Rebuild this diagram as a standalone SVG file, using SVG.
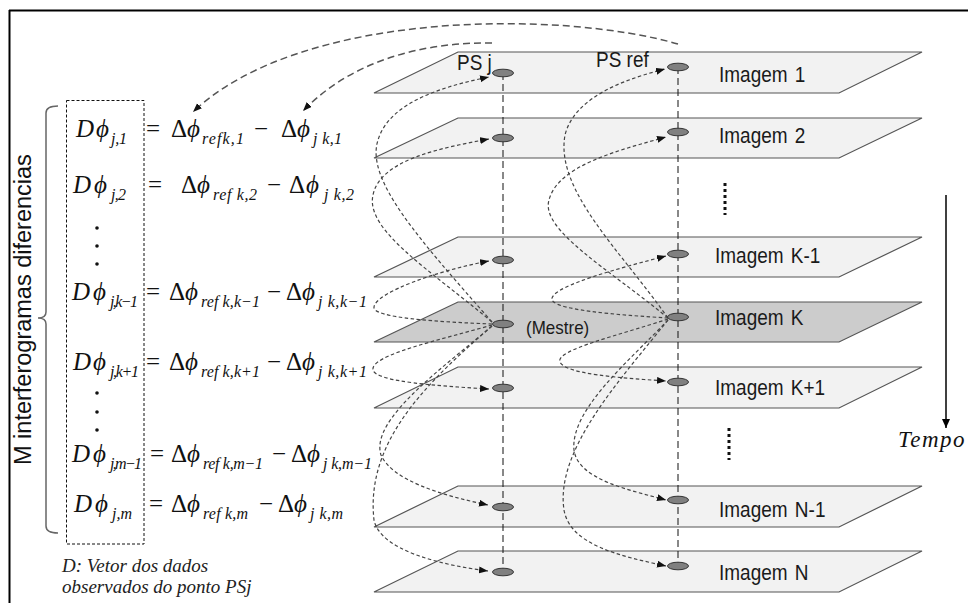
<svg xmlns="http://www.w3.org/2000/svg" width="968" height="603" viewBox="0 0 968 603">
  <style>
    .plane { fill: #f2f2f2; stroke: #555; stroke-width: 1.2; }
    .master { fill: #cccccc; }
    .ps { fill: #808080; stroke: #333; stroke-width: 1; }
    .col { stroke: #111; stroke-width: 1; stroke-dasharray: 7 4; fill: none; }
    .link { fill: none; stroke: #444; stroke-width: 1.2; stroke-dasharray: 3.5 2.5; marker-end: url(#tip); }
    .arc { fill: none; stroke: #555; stroke-width: 1.5; stroke-dasharray: 7 4; marker-end: url(#tip); }
    .lbl { font-family: "Liberation Sans", Arial, sans-serif; font-size: 19px; fill: #1a1a1a; }
    .m { font-family: "Liberation Serif", "DejaVu Serif", serif; font-size: 25px; font-style: italic; fill: #111; }
    .u { font-style: normal; }
    .s { font-family: "Liberation Serif", "DejaVu Serif", serif; font-size: 16px; font-style: italic; fill: #111; }
    .note { font-family: "Liberation Serif", serif; font-size: 19px; font-style: italic; fill: #222; }
  </style>
  <defs>
    <marker id="tip" markerUnits="userSpaceOnUse" markerWidth="10" markerHeight="8" refX="9" refY="3.5" orient="auto">
      <path d="M0,0 L9,3.5 L0,7 z" fill="#111"/>
    </marker>
    <marker id="down" markerUnits="userSpaceOnUse" markerWidth="10" markerHeight="10" refX="4" refY="9" orient="0">
      <path d="M0,0 L8,0 L4,9 z" fill="#000"/>
    </marker>
  </defs>

  <rect width="968" height="603" fill="#fff"/>

  <!-- outer frame: top and left borders -->
  <g id="frame" stroke="#000" stroke-width="2" fill="none">
    <line x1="9" y1="10.5" x2="968" y2="10.5"/>
    <line x1="9.5" y1="10" x2="9.5" y2="603"/>
  </g>

  <!-- side label and brace -->
  <g id="side-label">
    <text class="lbl" style="font-size:23.5px; fill:#111" transform="translate(31,465) rotate(-90)">M  interferogramas diferencias</text>
    <path d="M58,106 Q46,106 46,113 L46,312 Q46,318 38,318 Q46,318 46,324 L46,526 Q46,533 58,533" fill="none" stroke="#666" stroke-width="1.5"/>
  </g>

  <!-- observation vector box -->
  <g id="vector-box">
    <rect x="66.5" y="100.5" width="77.5" height="443.5" fill="none" stroke="#111" stroke-width="1" stroke-dasharray="3 2"/>
    <g fill="#111">
      <circle cx="97" cy="228" r="1.8"/><circle cx="97" cy="246" r="1.8"/><circle cx="97" cy="264" r="1.8"/>
      <circle cx="97" cy="393" r="1.8"/><circle cx="97" cy="412" r="1.8"/><circle cx="97" cy="430" r="1.8"/>
    </g>
  </g>

  <!-- differential interferogram equations -->
  <g id="eq-1">
    <text class="m" y="137"><tspan x="76">D</tspan><tspan x="96">ϕ</tspan><tspan class="u" x="146">=</tspan><tspan class="u" x="171">Δ</tspan><tspan x="187">ϕ</tspan><tspan class="u" x="254">−</tspan><tspan class="u" x="281">Δ</tspan><tspan x="297">ϕ</tspan></text>
    <text class="s" y="144"><tspan x="111" textLength="16">j,1</tspan><tspan x="202" textLength="42">refk,1</tspan><tspan x="313" textLength="29">j k,1</tspan></text>
  </g>
  <g id="eq-2">
    <text class="m" y="193"><tspan x="73">D</tspan><tspan x="94">ϕ</tspan><tspan class="u" x="148">=</tspan><tspan class="u" x="181">Δ</tspan><tspan x="197">ϕ</tspan><tspan class="u" x="267">−</tspan><tspan class="u" x="289">Δ</tspan><tspan x="306">ϕ</tspan></text>
    <text class="s" y="200"><tspan x="111" textLength="15">j,2</tspan><tspan x="213" textLength="44">ref k,2</tspan><tspan x="324" textLength="30">j k,2</tspan></text>
  </g>
  <g id="eq-k-1">
    <text class="m" y="300"><tspan x="72">D</tspan><tspan x="93">ϕ</tspan><tspan class="u" x="146">=</tspan><tspan class="u" x="169">Δ</tspan><tspan x="185">ϕ</tspan><tspan class="u" x="267">−</tspan><tspan class="u" x="286">Δ</tspan><tspan x="302">ϕ</tspan></text>
    <text class="s" y="307"><tspan x="110" textLength="28">j,k−1</tspan><tspan x="201" textLength="59">ref k,k−1</tspan><tspan x="318" textLength="49">j k,k−1</tspan></text>
  </g>
  <g id="eq-k+1">
    <text class="m" y="370"><tspan x="73">D</tspan><tspan x="93">ϕ</tspan><tspan class="u" x="146">=</tspan><tspan class="u" x="169">Δ</tspan><tspan x="185">ϕ</tspan><tspan class="u" x="267">−</tspan><tspan class="u" x="286">Δ</tspan><tspan x="302">ϕ</tspan></text>
    <text class="s" y="377"><tspan x="110" textLength="29">j,k+1</tspan><tspan x="201" textLength="59">ref k,k+1</tspan><tspan x="318" textLength="49">j k,k+1</tspan></text>
  </g>
  <g id="eq-m-1">
    <text class="m" y="462"><tspan x="72">D</tspan><tspan x="93">ϕ</tspan><tspan class="u" x="150">=</tspan><tspan class="u" x="171">Δ</tspan><tspan x="187">ϕ</tspan><tspan class="u" x="272">−</tspan><tspan class="u" x="291">Δ</tspan><tspan x="307">ϕ</tspan></text>
    <text class="s" y="469"><tspan x="110" textLength="32">j,m−1</tspan><tspan x="203" textLength="60">ref k,m−1</tspan><tspan x="323" textLength="49">j k,m−1</tspan></text>
  </g>
  <g id="eq-m">
    <text class="m" y="512"><tspan x="74">D</tspan><tspan x="95">ϕ</tspan><tspan class="u" x="149">=</tspan><tspan class="u" x="171">Δ</tspan><tspan x="187">ϕ</tspan><tspan class="u" x="259">−</tspan><tspan class="u" x="278">Δ</tspan><tspan x="294">ϕ</tspan></text>
    <text class="s" y="519"><tspan x="112" textLength="20">j,m</tspan><tspan x="203" textLength="45">ref k,m</tspan><tspan x="310" textLength="33">j k,m</tspan></text>
  </g>

  <g id="note">
    <text class="note" x="62" y="572">D: Vetor dos dados</text>
    <text class="note" x="62" y="593">observados do ponto PSj</text>
  </g>

  <!-- image planes -->
  <g id="img-1"><path class="plane" d="M374,93 L458,52 L922,52 L839,93 Z"/><text class="lbl" transform="translate(719,82) scale(1,1.12)">Imagem <tspan dx="2">1</tspan></text></g>
  <g id="img-2"><path class="plane" d="M374,158 L458,118 L922,118 L839,158 Z"/><text class="lbl" transform="translate(719,143) scale(1,1.12)">Imagem <tspan dx="2">2</tspan></text></g>
  <g id="img-k-1"><path class="plane" d="M374,277 L458,237 L922,237 L839,277 Z"/><text class="lbl" transform="translate(715,263) scale(1,1.12)">Imagem <tspan dx="2">K-1</tspan></text></g>
  <g id="img-k"><path class="plane master" d="M374,342 L458,302 L922,302 L839,342 Z"/><text class="lbl" transform="translate(715,325) scale(1,1.12)">Imagem <tspan dx="2">K</tspan></text></g>
  <g id="img-k+1"><path class="plane" d="M374,408 L458,367 L922,367 L839,408 Z"/><text class="lbl" transform="translate(715,395) scale(1,1.12)">Imagem <tspan dx="2">K+1</tspan></text></g>
  <g id="img-n-1"><path class="plane" d="M374,527 L458,486 L922,486 L839,527 Z"/><text class="lbl" transform="translate(719,517) scale(1,1.12)">Imagem <tspan dx="2">N-1</tspan></text></g>
  <g id="img-n"><path class="plane" d="M374,592 L458,551 L922,551 L839,592 Z"/><text class="lbl" transform="translate(719,580) scale(1,1.12)">Imagem <tspan dx="2">N</tspan></text></g>

  <!-- omitted images -->
  <g id="ellipsis" stroke="#111" stroke-width="3" stroke-dasharray="3 3">
    <line x1="725" y1="183" x2="725" y2="215"/>
    <line x1="729" y1="428" x2="729" y2="460"/>
  </g>

  <!-- time axis -->
  <g id="time-axis">
    <line x1="946" y1="195" x2="946" y2="428" stroke="#000" stroke-width="1.5" marker-end="url(#down)"/>
    <text class="note" style="font-size:23px; letter-spacing:1.5px; fill:#111" x="898" y="447">Tempo</text>
  </g>

  <!-- point columns -->
  <g id="columns">
    <line class="col" x1="503" y1="73" x2="503" y2="572"/>
    <line class="col" x1="678" y1="67" x2="678" y2="566"/>
  </g>

  <g id="connectors">
    <!-- from the equation terms back to the points -->
    <path class="arc" d="M678,44 C560,10 300,10 193,112"/>
    <path class="arc" d="M492,43 C420,42 350,62 303,111"/>
    <!-- PS j: master to each image -->
    <path class="link" d="M492,322 C420,240 365,180 378,140 C390,100 450,85 489,77"/>
    <path class="link" d="M492,322 C430,270 365,230 373,195 C380,160 440,148 489,139"/>
    <path class="link" d="M492,324 C440,322 372,318 374,307 C376,292 440,270 489,261"/>
    <path class="link" d="M492,325 C440,340 370,355 373,370 C376,382 440,386 489,389"/>
    <path class="link" d="M492,326 C440,370 370,420 381,455 C392,480 440,495 488,505"/>
    <path class="link" d="M492,326 C430,380 365,440 374,520 C380,550 440,565 488,571"/>
    <!-- PS ref: master to each image -->
    <path class="link" d="M668,318 C620,250 555,190 565,135 C575,95 630,78 665,69"/>
    <path class="link" d="M668,318 C610,270 540,230 549,200 C558,165 620,150 666,137"/>
    <path class="link" d="M668,318 C620,315 548,310 552,298 C556,285 620,268 666,256"/>
    <path class="link" d="M668,319 C620,335 555,350 560,362 C565,374 620,378 666,381"/>
    <path class="link" d="M668,320 C630,360 570,410 574,450 C578,480 630,490 666,500"/>
    <path class="link" d="M668,320 C620,380 555,450 564,510 C570,545 620,556 666,566"/>
  </g>

  <!-- persistent scatterers -->
  <g id="ps-j">
    <text class="lbl" transform="translate(457,70) scale(1,1.12)">PS j</text>
    <ellipse class="ps" cx="503" cy="73" rx="10.5" ry="3.8"/>
    <ellipse class="ps" cx="503" cy="138" rx="10.5" ry="3.8"/>
    <ellipse class="ps" cx="503" cy="260" rx="10.5" ry="3.8"/>
    <ellipse class="ps" cx="503" cy="324" rx="10.5" ry="3.8"/>
    <ellipse class="ps" cx="503" cy="388" rx="10.5" ry="3.8"/>
    <ellipse class="ps" cx="503" cy="507" rx="10.5" ry="3.8"/>
    <ellipse class="ps" cx="503" cy="572" rx="10.5" ry="3.8"/>
    <text class="lbl" style="font-size:17px" transform="translate(526,334) scale(1,1.1)">(Mestre)</text>
  </g>
  <g id="ps-ref">
    <text class="lbl" transform="translate(596,67) scale(1,1.12)">PS ref</text>
    <ellipse class="ps" cx="678" cy="67" rx="10.5" ry="3.8"/>
    <ellipse class="ps" cx="678" cy="132" rx="10.5" ry="3.8"/>
    <ellipse class="ps" cx="678" cy="254" rx="10.5" ry="3.8"/>
    <ellipse class="ps" cx="678" cy="317" rx="10.5" ry="3.8"/>
    <ellipse class="ps" cx="678" cy="382" rx="10.5" ry="3.8"/>
    <ellipse class="ps" cx="678" cy="500" rx="10.5" ry="3.8"/>
    <ellipse class="ps" cx="678" cy="566" rx="10.5" ry="3.8"/>
  </g>
</svg>
